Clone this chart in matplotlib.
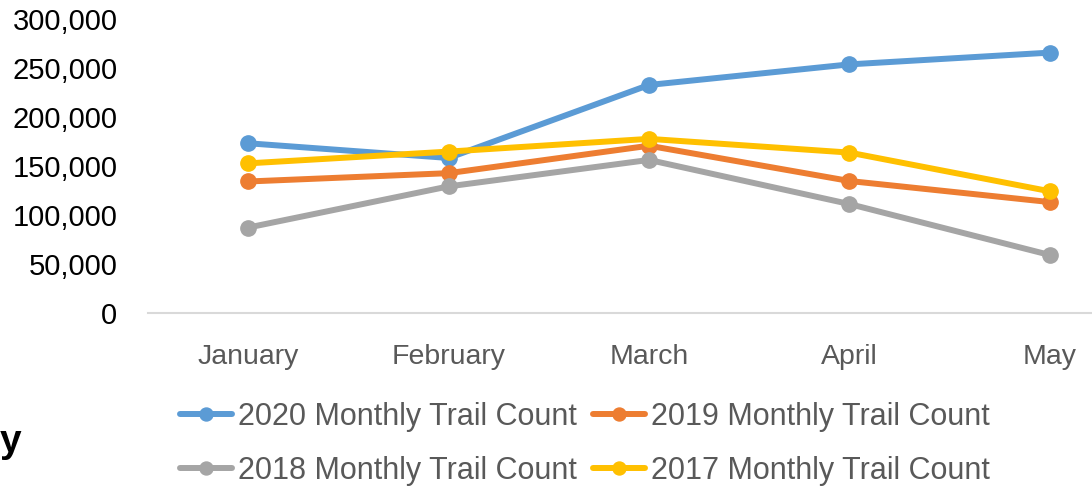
import numpy as np
import matplotlib.pyplot as plt
from matplotlib import rcParams
from matplotlib.ticker import FuncFormatter

rcParams['font.family'] = ['Liberation Sans', 'DejaVu Sans']

months = ['January', 'February', 'March', 'April', 'May']
count_2020 = [173500, 158500, 233000, 254000, 266000]
count_2019 = [134500, 143000, 171000, 135000, 113500]
count_2018 = [87500, 129500, 156500, 111500, 59500]
count_2017 = [153000, 165000, 178000, 164000, 124500]

series = [
    ('2020 Monthly Trail Count', count_2020, '#5B9BD5'),
    ('2019 Monthly Trail Count', count_2019, '#ED7D31'),
    ('2018 Monthly Trail Count', count_2018, '#A5A5A5'),
    ('2017 Monthly Trail Count', count_2017, '#FFC000'),
]

fig = plt.figure(figsize=(10.92, 4.87), dpi=100)
# axes runs past the right edge, the source image is cropped there
ax = fig.add_axes([148/1092, (487-313.3)/487, 1002/1092, 294/487])

x = np.arange(len(months))
lines = {}
for label, vals, col in series:
    ln, = ax.plot(x, vals, color=col, lw=4.3, marker='o', ms=11, label=label,
                  solid_capstyle='round', clip_on=False)
    lines[label] = ln

ax.set_xlim(-0.5, len(months) - 0.5)
ax.set_ylim(0, 300000)
ax.set_yticks(np.arange(0, 300001, 50000))
ax.yaxis.set_major_formatter(FuncFormatter(lambda v, p: '{:,.0f}'.format(v)))
ax.set_xticks(x)
ax.set_xticklabels(months)

for s in ['top', 'right', 'left']:
    ax.spines[s].set_visible(False)
ax.spines['bottom'].set_color('#D9D9D9')
ax.spines['bottom'].set_linewidth(1.5)
ax.tick_params(axis='y', length=0, pad=22, labelsize=21, labelcolor='#000000')
ax.tick_params(axis='x', length=0, pad=22, labelsize=20.5, labelcolor='#595959')

# legend fills column-wise, reorder so rows read 2020/2019 then 2018/2017
order = [series[0][0], series[2][0], series[1][0], series[3][0]]
leg = fig.legend([lines[k] for k in order], order, loc='center',
                 bbox_to_anchor=(585/1092, 1 - 444/487), ncol=2,
                 frameon=False, fontsize=22, handlelength=1.7, handletextpad=0.2,
                 columnspacing=0.55, labelspacing=0.78, markerscale=0.85)
for t in leg.get_texts():
    t.set_color('#595959')

fig.text(0.0, 1 - 442/487, 'y', fontsize=28, fontweight='bold',
         ha='left', va='center', color='#000000')

fig.savefig('out.png', dpi=100)
